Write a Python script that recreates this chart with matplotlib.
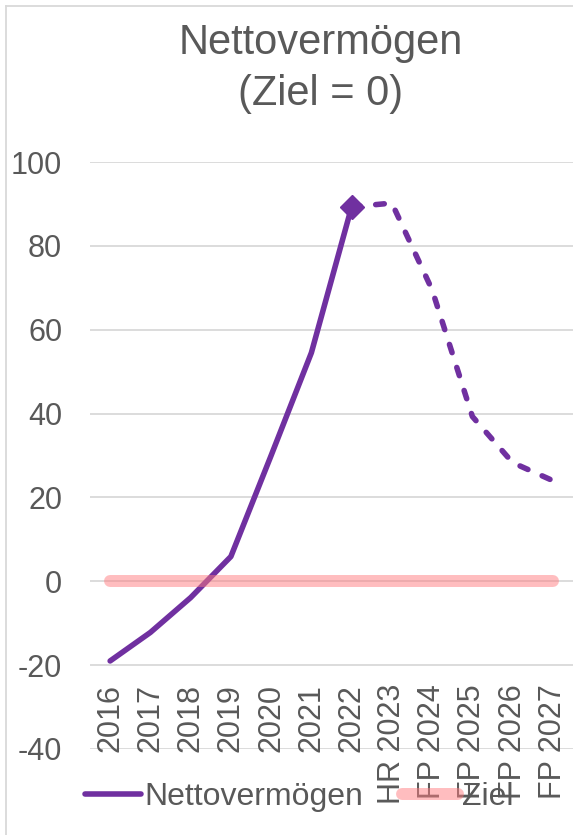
import matplotlib.pyplot as plt
from matplotlib.lines import Line2D

plt.rcParams['font.family'] = ['Liberation Sans', 'DejaVu Sans']

# Werte
kategorien = ['2016', '2017', '2018', '2019', '2020', '2021', '2022',
              'HR 2023', 'FP 2024', 'FP 2025', 'FP 2026', 'FP 2027']
netto_ist = [-19.0, -12.2, -3.9, 5.9, 30.0, 54.5, 89.3]          # 2016-2022
netto_plan = [89.3, 90.2, 69.5, 39.3, 28.3, 24.0]                 # 2022-FP 2027
ziel = [0] * len(kategorien)

lila = '#7030A0'
rosa = '#FF7C80'
grau_text = '#595959'
grau_linie = '#D9D9D9'

fig = plt.figure(figsize=(5.73, 8.35), dpi=100)
ax = fig.add_axes([90 / 573, 1 - 749 / 835, (573 - 90) / 573, (749 - 162) / 835])

x_ist = list(range(len(netto_ist)))
x_plan = list(range(len(netto_ist) - 1, len(kategorien)))

ax.plot(x_ist, netto_ist, color=lila, lw=4.0, solid_capstyle='round',
        solid_joinstyle='round', zorder=3)
ax.plot(x_plan, netto_plan, color=lila, lw=4.0, linestyle=(0, (1.55, 2.8)),
        dash_capstyle='round', zorder=3)
ax.plot([x_ist[-1]], [netto_ist[-1]], marker='D', markersize=12, color=lila, zorder=4)
ax.plot(range(len(kategorien)), ziel, color=rosa, alpha=0.5, lw=8.6,
        solid_capstyle='round', zorder=5)

ax.set_xlim(-0.5, len(kategorien) - 0.5)
ax.set_ylim(-40, 100)
ax.set_yticks(range(-40, 101, 20))
ax.set_yticklabels([str(v) for v in range(-40, 101, 20)])
ax.tick_params(axis='y', length=0, pad=20, labelsize=22, labelcolor=grau_text)
ax.set_xticks([])
for s in ax.spines.values():
    s.set_visible(False)
ax.grid(axis='y', color=grau_linie, lw=1.3)
ax.set_axisbelow(True)

# Kategorien senkrecht unter der -20-Linie
for i, k in enumerate(kategorien):
    ax.text(i, -24.5, k, rotation=90, ha='center', va='top',
            fontsize=22, color=grau_text, zorder=2)

# Titel
fig.text(321 / 573, 1 - 54 / 835, 'Nettovermögen', ha='center', va='baseline',
         fontsize=30, color=grau_text)
fig.text(321 / 573, 1 - 105 / 835, '(Ziel = 0)', ha='center', va='baseline',
         fontsize=30, color=grau_text)

# Legende
handles = [Line2D([], [], color=lila, lw=4.0, solid_capstyle='round'),
           Line2D([], [], color=rosa, alpha=0.5, lw=8.6, solid_capstyle='round')]
fig.legend(handles, ['Nettovermögen', 'Ziel'], loc='center left',
           bbox_to_anchor=(85 / 573, 1 - 797 / 835), ncol=2, frameon=False,
           fontsize=23, labelcolor=grau_text, handlelength=1.75,
           handletextpad=0.12, columnspacing=1.2, borderpad=0, borderaxespad=0)

# Rahmen des Diagrammbereichs
fig.add_artist(Line2D([6 / 573, 6 / 573], [0, 1 - 6 / 835], transform=fig.transFigure,
                      color=grau_linie, lw=1.3))
fig.add_artist(Line2D([6 / 573, 1], [1 - 6 / 835, 1 - 6 / 835], transform=fig.transFigure,
                      color=grau_linie, lw=1.3))

fig.savefig('out.png', dpi=100)
